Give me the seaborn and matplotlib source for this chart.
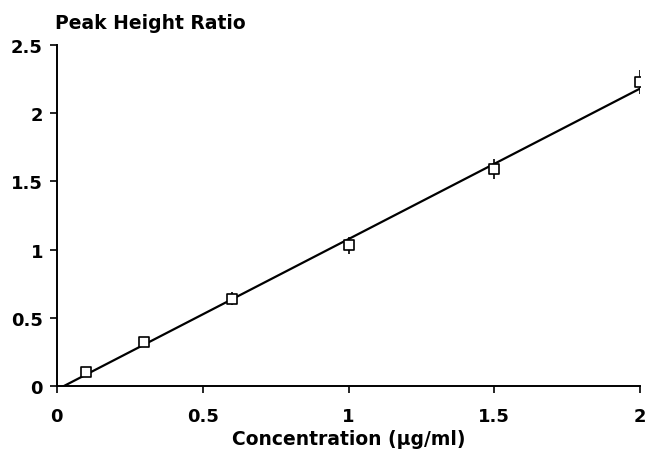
import numpy as np
import matplotlib
matplotlib.use("Agg")
import matplotlib.pyplot as plt
import seaborn as sns
import pandas as pd

# Calibration data: concentration vs. peak height ratio
concentration = [0.1, 0.3, 0.6, 1.0, 1.5, 2.0]
peak_ratio = [0.10, 0.32, 0.64, 1.03, 1.59, 2.23]
ratio_sd = [0.03, 0.035, 0.05, 0.065, 0.075, 0.09]

x_ticks = [0, 0.5, 1, 1.5, 2]
x_tick_labels = ["0", "0.5", "1", "1.5", "2"]
y_ticks = [0, 0.5, 1, 1.5, 2, 2.5]
y_tick_labels = ["0", "0.5", "1", "1.5", "2", "2.5"]

df = pd.DataFrame({"conc": concentration, "ratio": peak_ratio, "sd": ratio_sd})

sns.set_theme(style="ticks")
plt.rcParams["font.family"] = ["DejaVu Sans"]
plt.rcParams["font.weight"] = "bold"
plt.rcParams["text.color"] = "black"
plt.rcParams["axes.labelcolor"] = "black"
plt.rcParams["xtick.color"] = "black"
plt.rcParams["ytick.color"] = "black"

fig = plt.figure(figsize=(6.46, 4.52), dpi=100)
ax = fig.add_axes([0.088, 0.144, 0.903, 0.754])

# least-squares calibration line
slope, intercept = np.polyfit(df["conc"], df["ratio"], 1)
xl = np.array([0.0, 2.0])
ax.plot(xl, slope * xl + intercept, color="black", lw=1.6, zorder=2)

ax.errorbar(df["conc"], df["ratio"], yerr=df["sd"], fmt="none",
            ecolor="black", elinewidth=1.2, capsize=0, zorder=3)
sns.scatterplot(data=df, x="conc", y="ratio", ax=ax, marker="s", s=50,
                facecolor="white", edgecolor="black", linewidth=1.2, zorder=4)

ax.set_xlim(0, 2)
ax.set_ylim(0, 2.5)
ax.set_xticks(x_ticks)
ax.set_xticklabels(x_tick_labels)
ax.set_yticks(y_ticks)
ax.set_yticklabels(y_tick_labels)
ax.tick_params(axis="both", direction="out", length=5, width=1.2,
               labelsize=13, color="black", labelcolor="black")
ax.tick_params(axis="x", pad=10)
ax.tick_params(axis="y", pad=5)
for lab in ax.get_xticklabels() + ax.get_yticklabels():
    lab.set_fontweight("bold")

sns.despine(ax=ax)
for s in ("left", "bottom"):
    ax.spines[s].set_linewidth(1.4)
    ax.spines[s].set_color("black")
    ax.spines[s].set_clip_on(False)

ax.set_xlabel("Concentration (µg/ml)", fontsize=13.5, fontweight="bold",
              labelpad=3, color="black")
ax.set_ylabel("")
fig.text(0.085, 0.949, "Peak Height Ratio", fontsize=13.5, fontweight="bold",
         ha="left", va="center", color="black")

fig.savefig("out.png", dpi=100, facecolor="white")
